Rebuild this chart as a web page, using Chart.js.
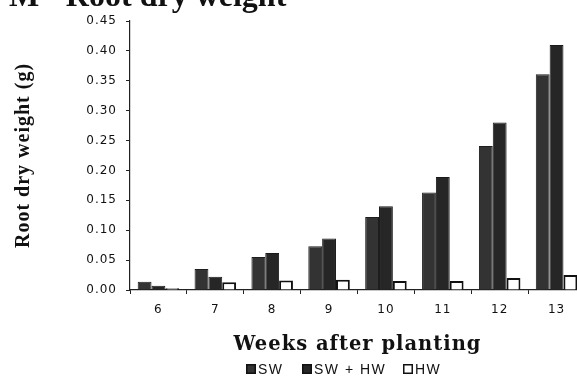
<!DOCTYPE html>
<html>
<head>
<meta charset="utf-8">
<script src="https://cdn.jsdelivr.net/npm/chart.js@4.4.1/dist/chart.umd.min.js"></script>
<style>
  html, body { margin: 0; padding: 0; background: #fff; overflow: hidden; }
  #wrap { width: 600px; height: 376px; }
</style>
</head>
<body>
<div id="wrap"><canvas id="grafica" width="600" height="376"></canvas></div>
<script>
// datos
const weeks = ["6", "7", "8", "9", "10", "11", "12", "13"];
const swValues = [0.014, 0.035, 0.055, 0.073, 0.122, 0.163, 0.241, 0.361];
const swHwValues = [0.007, 0.022, 0.062, 0.086, 0.140, 0.189, 0.280, 0.410];
const hwValues = [0.003, 0.013, 0.016, 0.017, 0.015, 0.015, 0.020, 0.025];
const seriesNames = ["SW", "SW + HW", "HW"];
const yTicks = [0, 0.05, 0.10, 0.15, 0.20, 0.25, 0.30, 0.35, 0.40, 0.45];

const serif = "'Liberation Serif', 'DejaVu Serif', serif";
const wideSerif = "'DejaVu Serif', serif";
const sans = "'Liberation Sans', Arial, sans-serif";
const tickFont = "'DejaVu Sans', sans-serif";
const fills = ["#333333", "#262626", "#ffffff"];

// el texto del original va algo espaciado
const extras = {
  id: "extras",
  beforeDraw(chart) {
    chart.ctx.letterSpacing = "1px";
  },
  afterDraw(chart) {
    const ctx = chart.ctx;
    ctx.save();
    ctx.letterSpacing = "0px";
    ctx.fillStyle = "#111";
    ctx.font = "bold 32px " + serif;
    ctx.textBaseline = "alphabetic";
    ctx.fillText("M - Root dry weight", 9, 6);

    // leyenda
    const boxX = [246, 302, 403];
    const y = 369;
    ctx.font = "14px " + sans;
    ctx.letterSpacing = "1.5px";
    ctx.textBaseline = "middle";
    seriesNames.forEach((name, i) => {
      const x = boxX[i];
      ctx.fillStyle = fills[i];
      ctx.fillRect(x, y - 5, 10, 10);
      ctx.strokeStyle = "#111";
      ctx.lineWidth = 1.5;
      ctx.strokeRect(x + 0.75, y - 4.25, 8.5, 8.5);
      ctx.fillStyle = "#111";
      ctx.fillText(name, x + 12, y + 1);
    });
    ctx.restore();
    ctx.letterSpacing = "0px";
  },
};

const ctx = document.getElementById("grafica").getContext("2d");
window.myChart = new Chart(ctx, {
  type: "bar",
  data: {
    labels: weeks,
    datasets: [
      {
        label: seriesNames[0],
        data: swValues,
        backgroundColor: fills[0],
        borderColor: "#1e1e1e",
        borderWidth: 1,
      },
      {
        label: seriesNames[1],
        data: swHwValues,
        backgroundColor: fills[1],
        borderColor: "#1a1a1a",
        borderWidth: 1,
      },
      {
        label: seriesNames[2],
        data: hwValues,
        backgroundColor: fills[2],
        borderColor: "#111",
        borderWidth: 2,
      },
    ],
  },
  options: {
    responsive: false,
    animation: false,
    layout: { padding: { top: 21, right: 15, left: 0, bottom: 0 } },
    datasets: { bar: { categoryPercentage: 0.73, barPercentage: 1.0 } },
    plugins: { legend: { display: false }, tooltip: { enabled: false } },
    scales: {
      x: {
        afterFit: (scale) => { scale.height = 86; },
        grid: { drawOnChartArea: false, tickLength: 4, color: "#222" },
        border: { color: "#222", width: 1.2 },
        ticks: { color: "#111", font: { family: tickFont, size: 12 }, padding: 9 },
        title: {
          display: true,
          text: "Weeks after planting",
          color: "#111",
          font: { family: wideSerif, size: 19.5, weight: "bold" },
          padding: { top: 0, bottom: 19 },
        },
      },
      y: {
        min: 0,
        max: 0.45,
        afterFit: (scale) => { scale.width = 130; },
        afterBuildTicks: (scale) => { scale.ticks = yTicks.map((v) => ({ value: v })); },
        grid: { drawOnChartArea: false, tickLength: 4, color: "#222" },
        border: { color: "#222", width: 1.2 },
        ticks: {
          color: "#111",
          font: { family: tickFont, size: 12 },
          padding: 9,
          callback: (v) => v.toFixed(2),
        },
        title: {
          display: true,
          text: "Root dry weight (g)",
          color: "#111",
          font: { family: serif, size: 20, weight: "bold" },
          padding: { top: 12, bottom: 0 },
        },
      },
    },
  },
  plugins: [extras],
});
</script>
</body>
</html>
